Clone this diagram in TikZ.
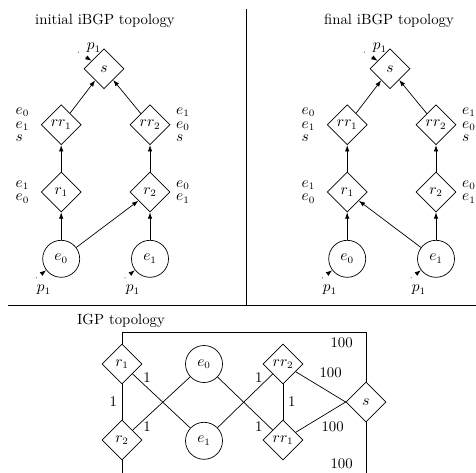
\documentclass[tikz,border=0pt]{standalone}
\usepackage{fontspec}
\usepackage{amsmath}
\usetikzlibrary{shapes.geometric,positioning,arrows.meta}

\tikzset{
  router/.style={diamond,draw,minimum size=1cm,inner sep=1pt},
  egress/.style={circle,draw,minimum size=0.925cm,inner sep=1pt},
  sess/.style={-{Latex[length=4.5pt,width=3.2pt]}},
  inject/.style={-{Latex[length=4.5pt,width=3.2pt]},dash pattern=on 0.5pt off 6pt},
  rib/.style={align=left,inner sep=1pt},
}

\begin{document}
\begin{tikzpicture}[font=\fontsize{10.5}{12.6}\selectfont,line width=0.5pt]
\useasboundingbox (0,0) rectangle (11.9,11.8);
%\draw[step=1cm,gray,very thin] (0,0) grid (12,12);
\draw (6.15,11.575)--(6.15,4.175);
\draw (0.2,4.175)--(11.9,4.175);
%.............................
\node[] (ititle) at (2.625,11.275) {initial iBGP topology};
\node[router] (is) at (2.6,10.08) {$s$};
\node[router] (irr1) at (1.53,8.68) {$rr_1$};
\node[router] (irr2) at (3.75,8.68) {$rr_2$};
\node[router] (ir1) at (1.53,7.0) {$r_1$};
\node[router] (ir2) at (3.75,7.0) {$r_2$};
\node[egress] (ie0) at (1.53,5.33) {$e_0$};
\node[egress] (ie1) at (3.75,5.33) {$e_1$};
\node[rib,left=0.25cm of irr1] (irr1rib) {$e_0$\\[-3pt]$e_1$\\[-3pt]$s$};
\node[rib,right=0.1cm of irr2] (irr2rib) {$e_1$\\[-3pt]$e_0$\\[-3pt]$s$};
\node[rib,left=0.25cm of ir1] (ir1rib) {$e_1$\\[-3pt]$e_0$};
\node[rib,right=0.1cm of ir2] (ir2rib) {$e_0$\\[-3pt]$e_1$};
\draw[sess] (ie0)--(ir1);
\draw[sess] (ie0)--(ir2);
\draw[sess] (ie1)--(ir2);
\draw[sess] (ir1)--(irr1);
\draw[sess] (ir2)--(irr2);
\draw[sess] (irr1)--(is);
\draw[sess] (irr2)--(is);
% p1 injected at s, e0, e1
\coordinate (isin) at (1.95,10.5);
\node[rib] (isp) at (2.35,10.6) {$p_1$};
\draw[inject] (isin)--(is);
\coordinate (ie0in) at (0.9,4.85);
\node[rib] (ie0p) at (1.1,4.55) {$p_1$};
\draw[inject] (ie0in)--(ie0);
\coordinate (ie1in) at (3.12,4.85);
\node[rib] (ie1p) at (3.32,4.55) {$p_1$};
\draw[inject] (ie1in)--(ie1);
%.............................
\node[] (ftitle) at (9.725,11.275) {final iBGP topology};
\node[router] (fs) at (9.75,10.08) {$s$};
\node[router] (frr1) at (8.68,8.68) {$rr_1$};
\node[router] (frr2) at (10.9,8.68) {$rr_2$};
\node[router] (fr1) at (8.68,7.0) {$r_1$};
\node[router] (fr2) at (10.9,7.0) {$r_2$};
\node[egress] (fe0) at (8.68,5.33) {$e_0$};
\node[egress] (fe1) at (10.9,5.33) {$e_1$};
\node[rib,left=0.25cm of frr1] (frr1rib) {$e_0$\\[-3pt]$e_1$\\[-3pt]$s$};
\node[rib,right=0.1cm of frr2] (frr2rib) {$e_1$\\[-3pt]$e_0$\\[-3pt]$s$};
\node[rib,left=0.25cm of fr1] (fr1rib) {$e_1$\\[-3pt]$e_0$};
\node[rib,right=0.1cm of fr2] (fr2rib) {$e_0$\\[-3pt]$e_1$};
\draw[sess] (fe0)--(fr1);
\draw[sess] (fe1)--(fr1);
\draw[sess] (fe1)--(fr2);
\draw[sess] (fr1)--(frr1);
\draw[sess] (fr2)--(frr2);
\draw[sess] (frr1)--(fs);
\draw[sess] (frr2)--(fs);
\coordinate (fsin) at (9.1,10.5);
\node[rib] (fsp) at (9.5,10.6) {$p_1$};
\draw[inject] (fsin)--(fs);
\coordinate (fe0in) at (8.05,4.85);
\node[rib] (fe0p) at (8.25,4.55) {$p_1$};
\draw[inject] (fe0in)--(fe0);
\coordinate (fe1in) at (10.27,4.85);
\node[rib] (fe1p) at (10.47,4.55) {$p_1$};
\draw[inject] (fe1in)--(fe1);
%.............................
\node[] (gtitle) at (3.025,3.775) {IGP topology};
\node[router] (gr1) at (3.05,2.7) {$r_1$};
\node[router] (gr2) at (3.05,0.8) {$r_2$};
\node[egress] (ge0) at (5.1,2.7) {$e_0$};
\node[egress] (ge1) at (5.1,0.78) {$e_1$};
\node[router] (grr2) at (7.075,2.7) {$rr_2$};
\node[router] (grr1) at (7.075,0.8) {$rr_1$};
\node[router] (gs) at (9.15,1.75) {$s$};
\draw (gr1)--node[left]{1} (gr2);
\draw (gr1)--node[near start,above]{1} (ge1);
\draw (gr2)--node[near start,below]{1} (ge0);
\draw (ge1)--node[near end,above]{1} (grr2);
\draw (ge0)--node[near end,below]{1} (grr1);
\draw (grr2)--node[right]{1} (grr1);
\draw (grr2)--node[pos=0.7,above=7.5pt]{100} (gs.west);
\draw (grr1)--node[pos=0.74,below=5pt]{100} (gs.west);
\draw (gr1.north)--++(0,0.28) -| node[pos=0.45,below]{100} (gs.north);
\draw (gr2.south)--++(0,-0.35) -| node[pos=0.45,above]{100} (gs.south);
\end{tikzpicture}
\end{document}
